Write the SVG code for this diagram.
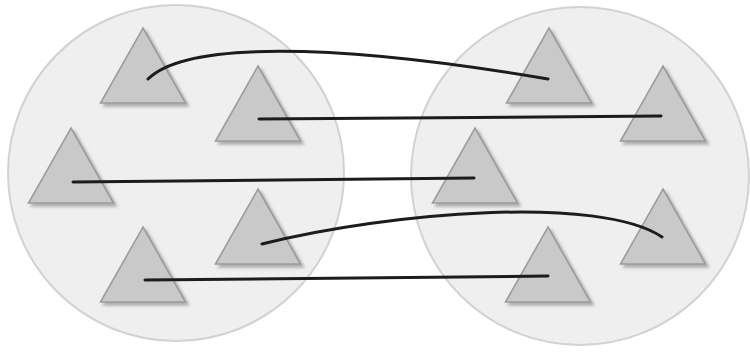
<svg xmlns="http://www.w3.org/2000/svg" xmlns:xlink="http://www.w3.org/1999/xlink" width="750" height="352" viewBox="0 0 750 352">
  <style>
    .set { fill: #efefef; stroke: #d2d2d2; stroke-width: 2; }
    .tri { fill: #c9c9c9; stroke: #9c9c9c; stroke-width: 1.6; stroke-linejoin: miter; filter: url(#shadow); }
    .link { fill: none; stroke: #1c1c1c; stroke-width: 3; stroke-linecap: round; }
  </style>
  <defs>
    <filter id="shadow" x="-20%" y="-20%" width="150%" height="150%">
      <feDropShadow dx="3" dy="3" stdDeviation="1.6" flood-color="#7a7a7a" flood-opacity="0.55"/>
    </filter>
    <path id="triangle" d="M0,0 L42.5,75 L-42.5,75 Z"/>
  </defs>
  <rect width="750" height="352" fill="#ffffff"/>

  <g id="set-left"><circle class="set" cx="176" cy="173" r="168"/></g>
  <g id="set-right"><circle class="set" cx="580" cy="176" r="169"/></g>

  <g id="t1"><use xlink:href="#triangle" class="tri" x="143" y="28"/></g>
  <g id="t2"><use xlink:href="#triangle" class="tri" x="258" y="66"/></g>
  <g id="t3"><use xlink:href="#triangle" class="tri" x="71" y="128"/></g>
  <g id="t4"><use xlink:href="#triangle" class="tri" x="258" y="189"/></g>
  <g id="t5"><use xlink:href="#triangle" class="tri" x="143" y="227"/></g>

  <g id="t6"><use xlink:href="#triangle" class="tri" x="549" y="28"/></g>
  <g id="t7"><use xlink:href="#triangle" class="tri" x="663" y="66"/></g>
  <g id="t8"><use xlink:href="#triangle" class="tri" x="475" y="128"/></g>
  <g id="t9"><use xlink:href="#triangle" class="tri" x="663" y="189"/></g>
  <g id="t10"><use xlink:href="#triangle" class="tri" x="548" y="227"/></g>

  <g id="connectors">
    <path class="link" d="M148,79 C185,42 330,42 548,79"/>
    <path class="link" d="M259,119 L661,116"/>
    <path class="link" d="M73,182 L474,178"/>
    <path class="link" d="M262,244 C390,212 600,195 662,237"/>
    <path class="link" d="M145,280 L548,276"/>
  </g>
</svg>
